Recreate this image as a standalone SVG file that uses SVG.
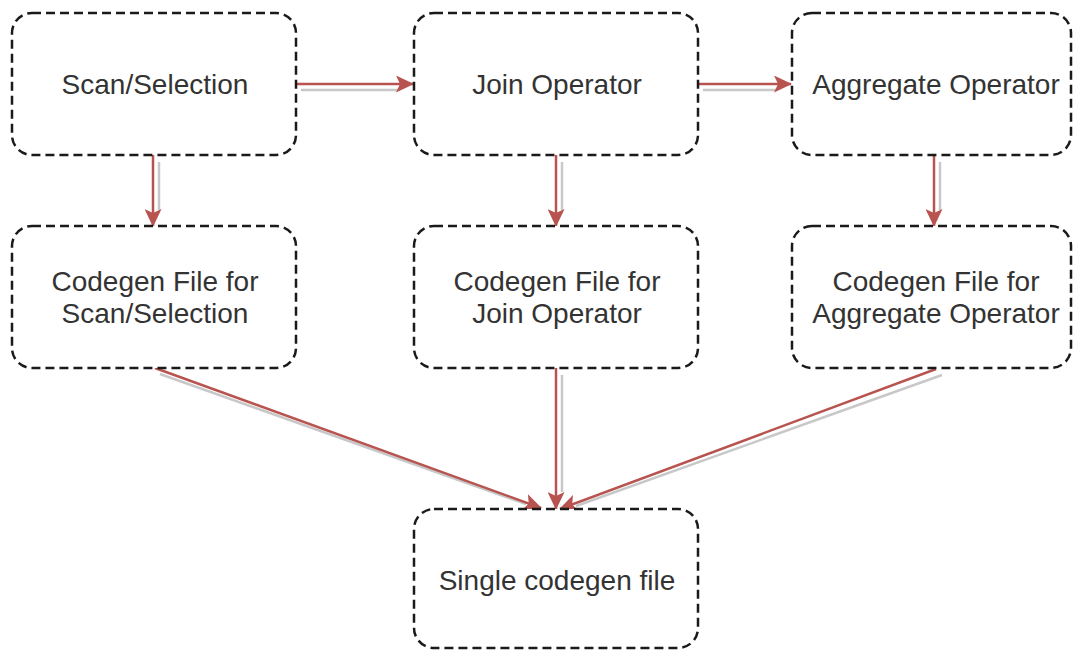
<svg xmlns="http://www.w3.org/2000/svg" width="1073" height="651" viewBox="0 0 1073 651">
<style>
.box{fill:#fff;stroke:#1a1a1a;stroke-width:2.5;stroke-dasharray:9 5}
.t{font-family:"Liberation Sans",Arial,sans-serif;font-size:28px;fill:#333;text-anchor:middle}
.e{stroke:#b85450;stroke-width:2.5;fill:none}
.s{stroke:#c8c8c8;stroke-width:2.5;fill:none}
</style>
<defs>
<marker id="ah" viewBox="0 0 18 17" refX="17" refY="8.5" markerWidth="18" markerHeight="17" markerUnits="userSpaceOnUse" orient="auto">
<path d="M0,0 L18,8.5 L0,17 L4,8.5 Z" fill="#b85450"/>
</marker>
</defs>
<rect width="1073" height="651" fill="#fff"/>
<g id="connectors">
<line class="s" x1="301" y1="90" x2="398" y2="90"/>
<line class="e" x1="296" y1="84" x2="413" y2="84" marker-end="url(#ah)"/>
<line class="s" x1="703" y1="90" x2="776" y2="90"/>
<line class="e" x1="698" y1="84" x2="791" y2="84" marker-end="url(#ah)"/>
<line class="s" x1="159" y1="162" x2="159" y2="210"/>
<line class="e" x1="153" y1="155" x2="153" y2="226" marker-end="url(#ah)"/>
<line class="s" x1="562" y1="162" x2="562" y2="210"/>
<line class="e" x1="556" y1="155" x2="556" y2="226" marker-end="url(#ah)"/>
<line class="s" x1="940" y1="162" x2="940" y2="210"/>
<line class="e" x1="934" y1="155" x2="934" y2="226" marker-end="url(#ah)"/>
<line class="s" x1="160" y1="374" x2="526" y2="504"/>
<line class="e" x1="155" y1="368" x2="541" y2="508" marker-end="url(#ah)"/>
<line class="s" x1="562" y1="375" x2="562" y2="492"/>
<line class="e" x1="556" y1="368" x2="556" y2="509" marker-end="url(#ah)"/>
<line class="s" x1="942" y1="375" x2="576" y2="506"/>
<line class="e" x1="936" y1="369" x2="560" y2="509" marker-end="url(#ah)"/>
</g>
<g id="scan">
<rect class="box" x="12" y="13" width="284" height="142" rx="20"/>
<text class="t" x="155" y="94">Scan/Selection</text>
</g>
<g id="join">
<rect class="box" x="414" y="13" width="284" height="142" rx="20"/>
<text class="t" x="557" y="94">Join Operator</text>
</g>
<g id="aggregate">
<rect class="box" x="792" y="13" width="279" height="142" rx="20"/>
<text class="t" x="936" y="94">Aggregate Operator</text>
</g>
<g id="codegen-scan">
<rect class="box" x="12" y="226" width="284" height="142" rx="20"/>
<text class="t" x="155" y="291">Codegen File for</text>
<text class="t" x="155" y="323">Scan/Selection</text>
</g>
<g id="codegen-join">
<rect class="box" x="414" y="226" width="284" height="142" rx="20"/>
<text class="t" x="557" y="291">Codegen File for</text>
<text class="t" x="557" y="323">Join Operator</text>
</g>
<g id="codegen-aggregate">
<rect class="box" x="792" y="226" width="279" height="142" rx="20"/>
<text class="t" x="936" y="291">Codegen File for</text>
<text class="t" x="936" y="323">Aggregate Operator</text>
</g>
<g id="single">
<rect class="box" x="414" y="509" width="284" height="139" rx="20"/>
<text class="t" x="557" y="590">Single codegen file</text>
</g>
</svg>
